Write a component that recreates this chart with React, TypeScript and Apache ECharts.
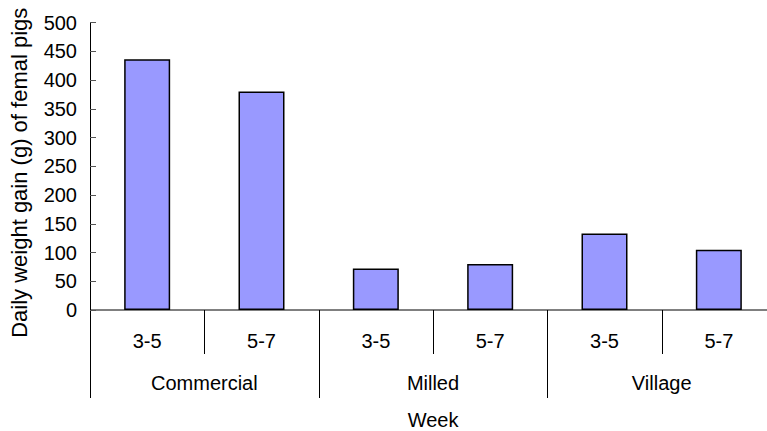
import React, { useEffect, useRef } from "react";
import * as echarts from "echarts";

const weekLabels = ["3-5", "5-7", "3-5", "5-7", "3-5", "5-7"];
const groupLabels = ["Commercial", "Milled", "Village"];
const gainValues = [436, 380, 72, 80, 133, 105];
const yTicks = { min: 0, max: 500, interval: 50 };
const weeksPerGroup = 2;

const FONT = "'Liberation Sans', Arial, sans-serif";
const W = 767;
const H = 431;

export default function App() {
  const ref = useRef<HTMLDivElement>(null);
  useEffect(() => {
    document.body.style.margin = "0";
    document.body.style.overflow = "hidden";
    document.documentElement.style.overflow = "hidden";
    if (!ref.current) return;
    const chart = echarts.init(ref.current, null, { renderer: "svg" });
    chart.setOption({
      animation: false,
      backgroundColor: "#ffffff",
      textStyle: { fontFamily: FONT },
      grid: {
        left: 90,
        top: 22.5,
        width: 686,
        bottom: 121,
        containLabel: false,
        outerBoundsMode: "none",
      },
      xAxis: [
        {
          type: "category",
          data: weekLabels,
          position: "bottom",
          boundaryGap: true,
          axisLine: { show: false },
          axisTick: { show: false },
          axisLabel: { interval: 0, margin: 21, fontSize: 20, color: "#000", fontFamily: FONT },
          name: "Week",
          nameLocation: "middle",
          nameGap: 100,
          nameTextStyle: { fontSize: 20, color: "#000", fontFamily: FONT },
        },
        {
          type: "category",
          data: groupLabels,
          position: "bottom",
          boundaryGap: true,
          axisLine: { show: false },
          axisTick: { show: false },
          axisLabel: { interval: 0, margin: 63, fontSize: 20, color: "#000", fontFamily: FONT },
        },
      ],
      yAxis: {
        type: "value",
        min: yTicks.min,
        max: yTicks.max,
        interval: yTicks.interval,
        splitLine: { show: false },
        axisLine: { show: true, lineStyle: { color: "#000", width: 1 } },
        axisTick: { show: true, inside: true, length: 6, lineStyle: { color: "#555", width: 1 } },
        axisLabel: { margin: 13, fontSize: 20, color: "#000", fontFamily: FONT },
        name: "Daily weight gain (g) of femal pigs",
        nameLocation: "middle",
        nameGap: 60,
        nameTextStyle: { fontSize: 22, color: "#000", fontFamily: FONT, padding: [0, 13, 0, 0] },
      },
      series: [
        {
          type: "bar",
          xAxisIndex: 0,
          data: gainValues,
          barWidth: 46,
          itemStyle: { color: "#9999ff", borderColor: "#000", borderWidth: 1.5 },
        },
      ],
    });

    // Category axis line and separators, computed from the axis scale and clipped to the canvas
    const c0 = chart.convertToPixel({ xAxisIndex: 0 }, 0) as number;
    const c1 = chart.convertToPixel({ xAxisIndex: 0 }, 1) as number;
    const band = c1 - c0;
    const yZero = chart.convertToPixel({ yAxisIndex: 0 }, 0) as number;
    const xStart = c0 - band / 2;
    const xEnd = xStart + band * weekLabels.length;
    const lineStyle = { stroke: "#000", lineWidth: 1 };
    const graphics: any[] = [
      {
        type: "line",
        shape: { x1: xStart, y1: yZero, x2: Math.min(xEnd, W), y2: yZero },
        style: lineStyle,
        silent: true,
      },
    ];
    for (let i = 0; i <= weekLabels.length; i++) {
      const x = Math.round(xStart + band * i) + 0.5;
      if (x > W) continue;
      const isGroup = i % weeksPerGroup === 0;
      graphics.push({
        type: "line",
        shape: { x1: x, y1: yZero, x2: x, y2: yZero + (isGroup ? 88 : 44) },
        style: lineStyle,
        silent: true,
      });
    }
    chart.setOption({ graphic: graphics });
    return () => chart.dispose();
  }, []);
  return (
    <div
      ref={ref}
      style={{ width: W, height: H, overflow: "hidden", display: "block" }}
    />
  );
}
